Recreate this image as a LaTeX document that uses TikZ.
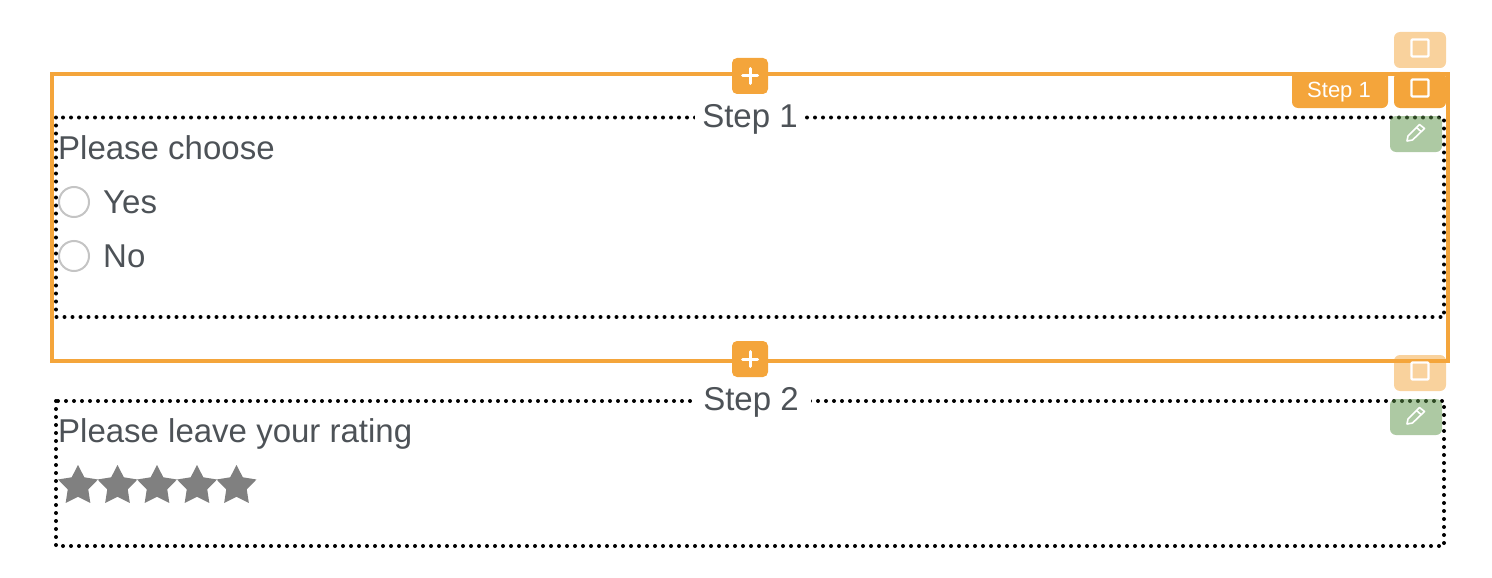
\documentclass[tikz,border=0pt]{standalone}
\usepackage{fontspec}
\setmainfont{Liberation Sans}
\usetikzlibrary{shapes.geometric}
\definecolor{frameorange}{RGB}{244,165,59}
\definecolor{editgreen}{RGB}{92,148,72}
\definecolor{labelgray}{RGB}{77,82,87}
\definecolor{stargray}{RGB}{128,128,128}
\definecolor{radiogray}{RGB}{196,196,196}
\tikzset{
    stepframe/.style={draw=black, line width=4pt, line cap=round, dash pattern=on 0pt off 8pt},
    formtext/.style={anchor=base west, inner sep=0pt, text=labelgray, font=\fontsize{33}{33}\selectfont},
    steptitle/.style={anchor=base, fill=white, inner xsep=0pt, inner ysep=3pt, text=labelgray, font=\fontsize{33}{33}\selectfont},
    radiobtn/.style={circle, draw=radiogray, line width=2pt, minimum size=30pt, inner sep=0pt},
    ratingstar/.style={star, star points=5, star point ratio=1.95, fill=stargray, inner sep=0pt, minimum size=42pt},
    iconbtn/.style={fill=frameorange, rounded corners=6pt, minimum width=52pt, minimum height=36pt, inner sep=0pt},
    fadedbtn/.style={iconbtn, fill opacity=0.5},
    editbtn/.style={iconbtn, fill=editgreen, fill opacity=0.5},
    plusbtn/.style={fill=frameorange, rounded corners=5pt, minimum size=36pt, inner sep=0pt},
    icon/.style={draw=white, line width=2.2pt, rounded corners=1pt},
}
\begin{document}
\begin{tikzpicture}[x=1pt, y=-1pt]
    \useasboundingbox (0, 0) rectangle (1492, 578);
    % step boxes
    \draw[stepframe] (56, 117.5) rectangle (1444, 317);
    \draw[stepframe] (56, 401) rectangle (1444, 546);
    \node[steptitle, minimum width=110pt] (titleone) at (750, 127) {Step 1};
    \node[steptitle, minimum width=119pt] (titletwo) at (751, 410) {Step 2};
    % first step
    \node[formtext] (chooselabel) at (58, 159) {Please choose};
    \foreach \name/\y/\txt in {yes/202/Yes, no/256/No} {
        \node[radiobtn] (radio\name) at (74, \y) {};
        \node[formtext] (label\name) at (103, \y+11) {\txt};
    }
    % second step
    \node[formtext] (ratinglabel) at (58, 442) {Please leave your rating};
    \foreach \i/\x in {1/78, 2/117.5, 3/157, 4/197, 5/236.5} \node[ratingstar] (star\i) at (\x, 486) {};
    % selected frame
    \draw[frameorange, line width=4pt] (52, 74) rectangle (1448, 361);
    \node[plusbtn] (plusup) at (750, 76) {};
    \node[plusbtn] (plusdown) at (750, 359) {};
    \foreach \btn in {plusup, plusdown} {
        \draw[white, line width=3pt, line cap=round] (\btn.center) +(-7.5, 0) -- +(7.5, 0);
        \draw[white, line width=3pt, line cap=round] (\btn.center) +(0, -7.5) -- +(0, 7.5);
    }
    % tab and side buttons
    \fill[frameorange] (1292, 74) {[rounded corners=6pt] -- (1292, 108) -- (1388, 108)} -- (1388, 74) -- cycle;
    \node[anchor=base, inner sep=0pt, text=white, font=\fontsize{22}{22}\selectfont] (tablabel) at (1339, 97) {Step 1};
    \node[fadedbtn] (copyup) at (1420, 50) {};
    \node[iconbtn] (copytab) at (1420, 90) {};
    \node[fadedbtn] (copydown) at (1420, 373) {};
    \node[editbtn] (editup) at (1416, 134) {};
    \node[editbtn] (editdown) at (1416, 417) {};
    \foreach \btn in {copyup, copytab, copydown} \draw[icon] (\btn.center) +(-8.5, -10.5) rectangle +(8.5, 6.5);
    \foreach \btn in {editup, editdown} {
        \draw[white, line width=1.6pt, line join=round] (\btn.center) +(-9, 7) -- +(-8, 2) -- +(3.5, -9.5) -- +(8.5, -5.5) -- +(-3.5, 6) -- cycle;
        \draw[white, line width=1.6pt] (\btn.center) +(0.5, -6.5) -- +(5, -2.5);
    }
\end{tikzpicture}
\end{document}
